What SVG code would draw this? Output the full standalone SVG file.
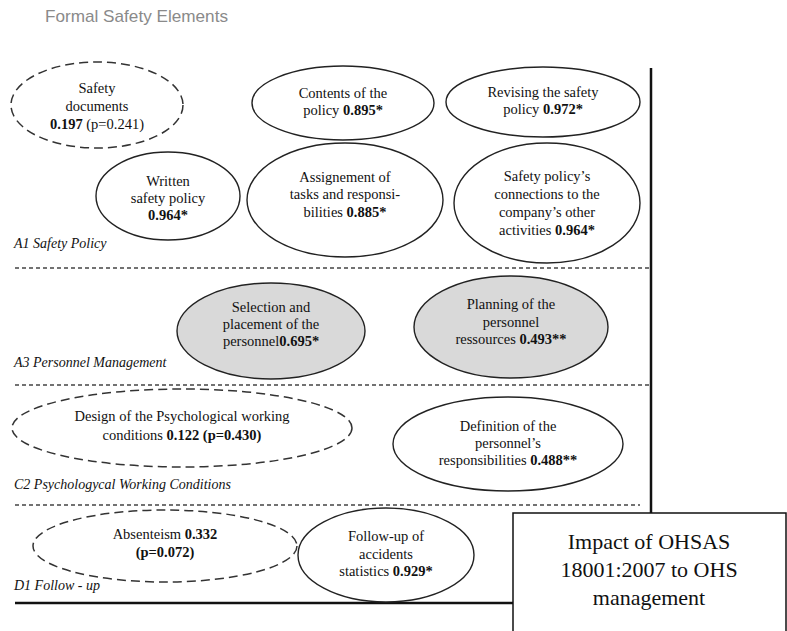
<svg xmlns="http://www.w3.org/2000/svg" width="787" height="631" viewBox="0 0 787 631">
  <style>
    .t { font-family: "Liberation Serif", "Times New Roman", serif; font-size: 14.5px; fill: #111; text-anchor: middle; }
    .b { font-weight: bold; }
    .big { font-size: 22px; }
    .sec { font-family: "Liberation Serif", "Times New Roman", serif; font-size: 14px; font-style: italic; fill: #111; }
    .el { fill: #fff; stroke: #222; stroke-width: 1.4; }
    .dash { fill: #fff; stroke: #333; stroke-width: 1.5; stroke-dasharray: 9 5; }
    .grey { fill: #d9d9d9; stroke: #222; stroke-width: 1.4; }
    .sep { stroke: #444; stroke-width: 1.5; stroke-dasharray: 4 3; fill: none; }
    .frame { stroke: #111; stroke-width: 2.5; fill: none; }
  </style>

  <rect width="787" height="631" fill="#fff"/>

  <text x="45" y="22" font-family="Liberation Sans, Arial, sans-serif" font-size="17" fill="#8a8a8a" textLength="183" lengthAdjust="spacingAndGlyphs">Formal Safety Elements</text>

  <!-- frame lines and section separators -->
  <g id="connectors">
    <line class="frame" x1="651" y1="68" x2="651" y2="513"/>
    <line class="frame" x1="15" y1="603" x2="513" y2="603"/>
    <line class="sep" x1="15" y1="268" x2="650" y2="268"/>
    <line class="sep" x1="15" y1="385" x2="650" y2="385"/>
    <line class="sep" x1="15" y1="505" x2="640" y2="505"/>
  </g>

  <!-- section labels -->
  <text class="sec" x="14" y="248">A1 Safety Policy</text>
  <text class="sec" x="14" y="367">A3 Personnel Management</text>
  <text class="sec" x="14" y="489">C2 Psychologycal Working Conditions</text>
  <text class="sec" x="14" y="590">D1 Follow - up</text>

  <!-- A1 Safety Policy -->
  <g id="safety-documents">
    <ellipse class="dash" cx="97" cy="105" rx="86" ry="43"/>
    <text class="t" x="97" y="93">Safety</text>
    <text class="t" x="97" y="111">documents</text>
    <text class="t" x="97" y="129"><tspan class="b">0.197</tspan> (p=0.241)</text>
  </g>
  <g id="contents-of-policy">
    <ellipse class="el" cx="343" cy="103" rx="91" ry="37"/>
    <text class="t" x="343" y="98">Contents of the</text>
    <text class="t" x="343" y="115">policy <tspan class="b">0.895*</tspan></text>
  </g>
  <g id="revising-policy">
    <ellipse class="el" cx="543" cy="102" rx="97" ry="35"/>
    <text class="t" x="543" y="97">Revising the safety</text>
    <text class="t" x="543" y="114">policy <tspan class="b">0.972*</tspan></text>
  </g>
  <g id="written-policy">
    <ellipse class="el" cx="168" cy="196" rx="72" ry="44"/>
    <text class="t" x="168" y="186">Written</text>
    <text class="t" x="168" y="203">safety policy</text>
    <text class="t b" x="168" y="220">0.964*</text>
  </g>
  <g id="assignment-tasks">
    <ellipse class="el" cx="345" cy="200" rx="98" ry="57"/>
    <text class="t" x="345" y="182">Assignement of</text>
    <text class="t" x="345" y="199">tasks and responsi-</text>
    <text class="t" x="345" y="217">bilities <tspan class="b">0.885*</tspan></text>
  </g>
  <g id="policy-connections">
    <ellipse class="el" cx="547" cy="203" rx="93" ry="60"/>
    <text class="t" x="547" y="181">Safety policy’s</text>
    <text class="t" x="547" y="199">connections to the</text>
    <text class="t" x="547" y="217">company’s other</text>
    <text class="t" x="547" y="235">activities <tspan class="b">0.964*</tspan></text>
  </g>

  <!-- A3 Personnel Management -->
  <g id="selection-placement">
    <ellipse class="grey" cx="271" cy="331" rx="94" ry="48"/>
    <text class="t" x="271" y="312">Selection and</text>
    <text class="t" x="271" y="329">placement of the</text>
    <text class="t" x="271" y="346">personnel<tspan class="b">0.695*</tspan></text>
  </g>
  <g id="planning-resources">
    <ellipse class="grey" cx="511" cy="327" rx="97" ry="51"/>
    <text class="t" x="511" y="309">Planning of the</text>
    <text class="t" x="511" y="327">personnel</text>
    <text class="t" x="511" y="344">ressources <tspan class="b">0.493**</tspan></text>
  </g>

  <!-- C2 Psychological Working Conditions -->
  <g id="psychological-design">
    <ellipse class="dash" cx="182" cy="428" rx="170" ry="39"/>
    <text class="t" x="182" y="421">Design of the Psychological working</text>
    <text class="t" x="182" y="440">conditions <tspan class="b">0.122 (p=0.430)</tspan></text>
  </g>
  <g id="responsibilities-definition">
    <ellipse class="el" cx="508" cy="444" rx="115" ry="47"/>
    <text class="t" x="508" y="431">Definition of the</text>
    <text class="t" x="508" y="448">personnel’s</text>
    <text class="t" x="508" y="465">responsibilities <tspan class="b">0.488**</tspan></text>
  </g>

  <!-- D1 Follow-up -->
  <g id="absenteism">
    <ellipse class="dash" cx="165" cy="546" rx="132" ry="36"/>
    <text class="t" x="165" y="539">Absenteism <tspan class="b">0.332</tspan></text>
    <text class="t b" x="165" y="557">(p=0.072)</text>
  </g>
  <g id="accident-statistics">
    <ellipse class="el" cx="386" cy="555" rx="88" ry="47"/>
    <text class="t" x="386" y="541">Follow-up of</text>
    <text class="t" x="386" y="559">accidents</text>
    <text class="t" x="386" y="576">statistics <tspan class="b">0.929*</tspan></text>
  </g>

  <!-- outcome box -->
  <g id="ohsas-impact">
    <rect x="513" y="513" width="273" height="130" fill="#fff" stroke="#111" stroke-width="1.5"/>
    <text class="t big" x="649" y="549">Impact of OHSAS</text>
    <text class="t big" x="649" y="577">18001:2007 to OHS</text>
    <text class="t big" x="649" y="605">management</text>
  </g>
</svg>
